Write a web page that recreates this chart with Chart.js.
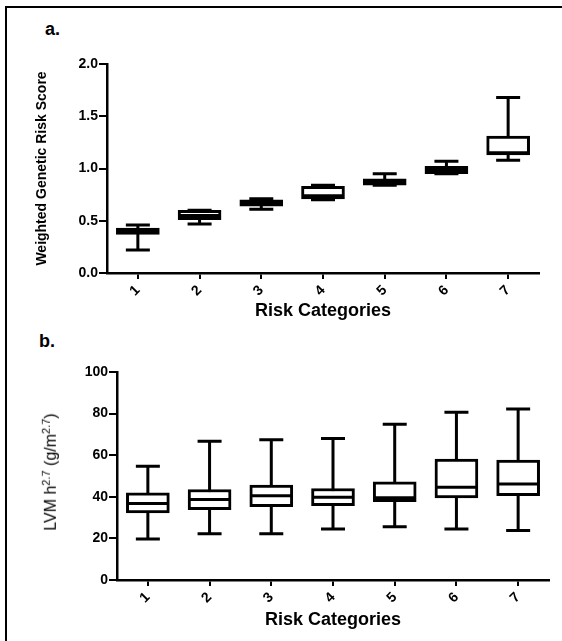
<!DOCTYPE html>
<html>
<head>
<meta charset="utf-8">
<script src="https://cdn.jsdelivr.net/npm/chart.js@4/dist/chart.umd.min.js"></script>
<style>
  body { margin: 0; background: #fff; }
  #fig { position: relative; width: 562px; height: 641px; overflow: hidden; font-family: "Liberation Sans", Arial, sans-serif; color: #000; }
  #frame { position: absolute; left: 5px; top: 6px; width: 560px; height: 640px; border-left: 2px solid #000; border-top: 2px solid #000; }
  .panel { position: absolute; left: 0; }
  .lab { position: absolute; font-weight: bold; font-size: 18px; }
  #lvm { position: absolute; left: 50px; top: 472px; transform: translate(-50%, -50%) rotate(-90deg); font-size: 16px; white-space: nowrap; }
  #lvm sup { font-size: 11px; }
</style>
</head>
<body>
<div id="fig">
  <div id="frame"></div>
  <div class="lab" style="left:45px;top:19px;">a.</div>
  <div class="lab" style="left:39px;top:331px;">b.</div>
  <div class="panel" style="top:0;width:562px;height:320px;"><canvas id="GraficoA" width="562" height="320"></canvas></div>
  <div class="panel" style="top:320px;width:562px;height:321px;"><canvas id="GraficoB" width="562" height="321"></canvas></div>
  <div id="lvm">LVM h<sup>2.7</sup> (g/m<sup>2.7</sup>)</div>
</div>
<script>
// categorias de risco
var categorias = ['1', '2', '3', '4', '5', '6', '7'];

// a. Weighted Genetic Risk Score
var gMin = [0.22, 0.47, 0.61, 0.70, 0.84, 0.95, 1.08];
var gQ1  = [0.37, 0.51, 0.64, 0.71, 0.84, 0.95, 1.13];
var gMed = [0.40, 0.55, 0.67, 0.74, 0.87, 0.98, 1.15];
var gQ3  = [0.43, 0.60, 0.70, 0.83, 0.90, 1.02, 1.31];
var gMax = [0.46, 0.60, 0.71, 0.84, 0.95, 1.07, 1.68];

// b. LVM h^2.7
var lMin = [19.7, 22.2, 22.2, 24.5, 25.6, 24.5, 23.8];
var lQ1  = [32.3, 33.8, 35.2, 35.7, 37.6, 39.5, 40.5];
var lMed = [36.8, 38.7, 40.5, 39.8, 39.5, 44.6, 46.2];
var lQ3  = [41.9, 43.5, 45.6, 44.0, 47.2, 58.1, 57.6];
var lMax = [54.7, 66.7, 67.4, 68.0, 74.9, 80.6, 82.2];

var fonte = "'Liberation Sans', Arial, sans-serif";

var estatisticas = {
    GraficoA: { min: gMin, q1: gQ1, med: gMed, q3: gQ3, max: gMax },
    GraficoB: { min: lMin, q1: lQ1, med: lMed, q3: lQ3, max: lMax }
};

function PegarCaixas(q1, q3) {
    var caixas = [];
    for (var i = 0; i < q1.length; i++) {
        caixas.push([q1[i], q3[i]]);
    }
    return caixas;
}

// whiskers + caps behind the boxes, medians on top
var boxplotPlugin = {
    id: 'boxplot',
    beforeDatasetsDraw: function (chart) {
        var s = estatisticas[chart.canvas.id];
        var ctx = chart.ctx;
        var x = chart.scales.x, y = chart.scales.y;
        ctx.save();
        ctx.strokeStyle = '#000';
        ctx.lineWidth = 3;
        for (var i = 0; i < s.min.length; i++) {
            var px = x.getPixelForValue(i);
            var yMin = y.getPixelForValue(s.min[i]);
            var yMax = y.getPixelForValue(s.max[i]);
            ctx.beginPath();
            ctx.moveTo(px, yMin);
            ctx.lineTo(px, yMax);
            ctx.moveTo(px - 12, yMin);
            ctx.lineTo(px + 12, yMin);
            ctx.moveTo(px - 12, yMax);
            ctx.lineTo(px + 12, yMax);
            ctx.stroke();
        }
        ctx.restore();
    },
    afterDatasetsDraw: function (chart) {
        var s = estatisticas[chart.canvas.id];
        var ctx = chart.ctx;
        var x = chart.scales.x, y = chart.scales.y;
        ctx.save();
        ctx.strokeStyle = '#000';
        ctx.lineWidth = 3;
        for (var i = 0; i < s.med.length; i++) {
            var px = x.getPixelForValue(i);
            var py = y.getPixelForValue(s.med[i]);
            ctx.beginPath();
            ctx.moveTo(px - 20, py);
            ctx.lineTo(px + 20, py);
            ctx.stroke();
        }
        ctx.restore();
    }
};

function CriarGrafico(id, eixoY, alturaX, pad, tituloPad) {
    var stats = estatisticas[id];
    return new Chart(document.getElementById(id), {
        type: 'bar',
        data: {
            labels: categorias,
            datasets: [{
                data: PegarCaixas(stats.q1, stats.q3),
                backgroundColor: '#fff',
                borderColor: '#000',
                borderWidth: 3,
                borderSkipped: false,
                barThickness: 43
            }]
        },
        options: {
            responsive: false,
            animation: false,
            layout: { padding: pad },
            plugins: { legend: { display: false }, tooltip: { enabled: false } },
            scales: {
                x: {
                    offset: true,
                    grid: { offset: false, drawOnChartArea: false, color: '#000', lineWidth: 2, tickLength: 6 },
                    border: { color: '#000', width: 2.5 },
                    ticks: { color: '#000', minRotation: 45, maxRotation: 45, padding: 3, font: { family: fonte, size: 14, weight: 'bold' } },
                    title: { display: true, text: 'Risk Categories', color: '#000', padding: { top: 0, bottom: tituloPad }, font: { family: fonte, size: 18, weight: 'bold', lineHeight: 1 } },
                    afterFit: function (scale) { scale.height = alturaX; }
                },
                y: eixoY
            }
        },
        plugins: [boxplotPlugin]
    });
}

var eixoA = {
    min: 0, max: 2,
    grid: { drawOnChartArea: false, color: '#000', lineWidth: 2, tickLength: 8 },
    border: { color: '#000', width: 2.5 },
    ticks: { stepSize: 0.5, color: '#000', padding: 1, font: { family: fonte, size: 14, weight: 'bold' },
        callback: function (v) { return Number(v).toFixed(1); } },
    title: { display: true, text: 'Weighted Genetic Risk Score', color: '#000', padding: { top: 34, bottom: 0 }, font: { family: fonte, size: 14, weight: 'bold' } },
    afterFit: function (scale) { scale.width = 107; }
};

var eixoB = {
    min: 0, max: 100,
    grid: { drawOnChartArea: false, color: '#000', lineWidth: 2, tickLength: 8 },
    border: { color: '#000', width: 2.5 },
    ticks: { stepSize: 20, color: '#000', padding: 1, font: { family: fonte, size: 14, weight: 'bold' } },
    afterFit: function (scale) { scale.width = 117; }
};

CriarGrafico('GraficoA', eixoA, 47, { left: 0, right: 23, top: 64, bottom: 0 }, 0);
CriarGrafico('GraficoB', eixoB, 61, { left: 0, right: 13, top: 52, bottom: 0 }, 12);
</script>
</body>
</html>
